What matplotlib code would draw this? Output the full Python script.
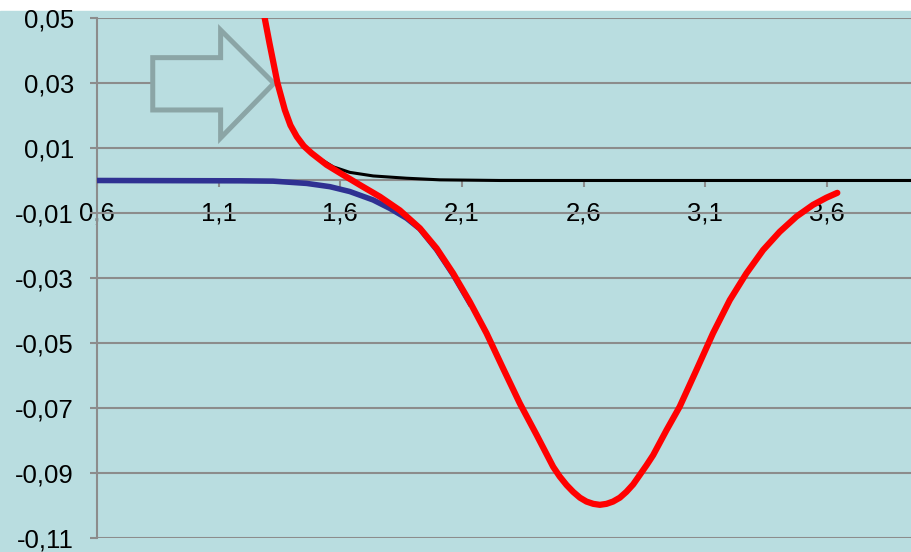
import matplotlib
matplotlib.use("Agg")
import matplotlib.pyplot as plt
from matplotlib.patches import Polygon, Rectangle

plt.rcParams['font.family'] = ['Liberation Sans', 'DejaVu Sans']

# total potential (red)
red_x = [1.283, 1.309, 1.342, 1.372, 1.395, 1.421, 1.450, 1.482, 1.544, 1.612,
         1.681, 1.763, 1.845, 1.927, 1.996, 2.064, 2.132, 2.201, 2.269, 2.338,
         2.407, 2.475, 2.502, 2.530, 2.557, 2.585, 2.612, 2.640, 2.667, 2.694,
         2.721, 2.749, 2.776, 2.804, 2.831, 2.858, 2.886, 2.941, 2.995, 3.064,
         3.132, 3.201, 3.269, 3.338, 3.406, 3.475, 3.543, 3.598, 3.643]
red_y = [0.0524, 0.0422, 0.0299, 0.0217, 0.0170, 0.0135, 0.0106, 0.0084, 0.0048, 0.0017,
         -0.0014, -0.0050, -0.0092, -0.0147, -0.0209, -0.0286, -0.0373, -0.0470, -0.0578, -0.0686,
         -0.0783, -0.0881, -0.0911, -0.0937, -0.0958, -0.0976, -0.0988, -0.0995, -0.0998, -0.0995,
         -0.0988, -0.0976, -0.0958, -0.0935, -0.0906, -0.0877, -0.0845, -0.0768, -0.0696, -0.0583,
         -0.0470, -0.0368, -0.0286, -0.0214, -0.0158, -0.0111, -0.0075, -0.0053, -0.0038]

# attractive part (blue)
blue_x = [0.6, 1.188, 1.324, 1.462, 1.557, 1.639, 1.735, 1.804, 1.872, 1.927, 1.996, 2.064, 2.132]
blue_y = [0.0, -0.0001, -0.0002, -0.0009, -0.0019, -0.0034, -0.0060, -0.0086, -0.0116, -0.0149,
          -0.0213, -0.0290, -0.0377]

# repulsive part (black)
black_x = [1.283, 1.309, 1.342, 1.372, 1.395, 1.421, 1.450, 1.482, 1.503, 1.571, 1.639, 1.735,
           1.872, 2.009, 2.256, 3.95]
black_y = [0.0524, 0.0422, 0.0299, 0.0217, 0.0170, 0.0135, 0.0106, 0.0086, 0.0073, 0.0042,
           0.0025, 0.0014, 0.0007, 0.0002, 0.0, 0.0]

x_ticks = [0.6, 1.1, 1.6, 2.1, 2.6, 3.1, 3.6]
x_labels = ['0,6', '1,1', '1,6', '2,1', '2,6', '3,1', '3,6']
y_ticks = [-0.11, -0.09, -0.07, -0.05, -0.03, -0.01, 0.01, 0.03, 0.05]
y_labels = ['-0,11', '-0,09', '-0,07', '-0,05', '-0,03', '-0,01', '0,01', '0,03', '0,05']

bg = '#B9DDE0'
grey = '#8C8C8C'

fig = plt.figure(figsize=(9.12, 5.52), dpi=100)
fig.patch.set_facecolor('white')
fig.add_artist(Rectangle((0, 0), 1, 0.980, transform=fig.transFigure, color=bg, zorder=0))

ax = fig.add_axes([0.1064, 0.0254, 0.8936, 0.9420])
ax.set_facecolor(bg)
ax.set_xlim(0.6, 3.95)
ax.set_ylim(-0.11, 0.05)

ax.spines['top'].set_visible(False)
ax.spines['right'].set_visible(False)
ax.spines['left'].set_color(grey)
ax.spines['left'].set_linewidth(1.5)
ax.spines['bottom'].set_position(('data', 0))
ax.spines['bottom'].set_color(grey)
ax.spines['bottom'].set_linewidth(1.5)

ax.set_yticks(y_ticks)
ax.set_yticklabels(y_labels)
ax.set_xticks(x_ticks)
ax.set_xticklabels(x_labels)
ax.tick_params(axis='y', direction='out', length=5, width=1.5, color=grey, pad=11.5, labelsize=18.5)
ax.tick_params(axis='x', direction='out', length=5, width=1.5, color=grey, pad=10, labelsize=18.5)
ax.yaxis.grid(True, color=grey, linewidth=1.5)
ax.set_axisbelow(True)

# block arrow
arrow = Polygon([(0.829, 0.0378), (1.108, 0.0378), (1.108, 0.0463), (1.327, 0.0299),
                 (1.108, 0.0131), (1.108, 0.0217), (0.829, 0.0217)],
                closed=True, facecolor=bg, edgecolor='#8BA5A6', linewidth=3.6, zorder=2)
ax.add_patch(arrow)

ax.plot(black_x, black_y, color='black', linewidth=2.2, zorder=3, solid_joinstyle='round')
ax.plot(blue_x, blue_y, color='#2F3192', linewidth=4, zorder=4, solid_joinstyle='round')
ax.plot(red_x, red_y, color='#FF0000', linewidth=4.5, zorder=5,
        solid_capstyle='round', solid_joinstyle='round')

fig.savefig('out.png', dpi=100, facecolor=fig.get_facecolor())
